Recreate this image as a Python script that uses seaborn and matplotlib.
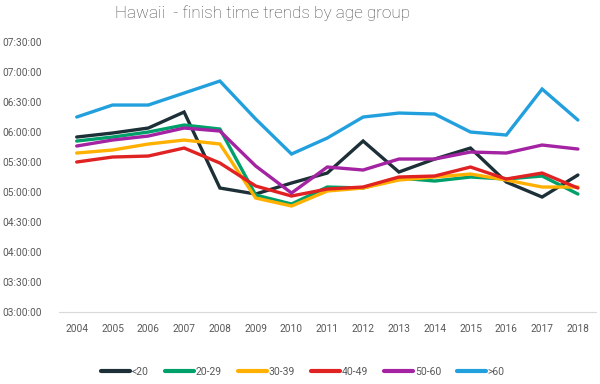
import matplotlib
matplotlib.use("Agg")
import matplotlib.pyplot as plt
from matplotlib.ticker import FuncFormatter, MultipleLocator
import seaborn as sns
import pandas as pd

years = [2004, 2005, 2006, 2007, 2008, 2009, 2010, 2011, 2012, 2013, 2014, 2015, 2016, 2017, 2018]
groups = ["<20", "20-29", "30-39", "40-49", "50-60", ">60"]
# finish times in minutes
u20 = [355, 359, 364, 380, 304, 298, 309, 319, 351, 320, 333, 344, 310, 295, 317]
a20_29 = [351, 355, 360, 367, 363, 297, 288, 305, 304, 314, 311, 315, 313, 316, 298]
a30_39 = [339, 342, 348, 352, 348, 294, 286, 301, 304, 312, 315, 318, 312, 305, 305]
a40_49 = [330, 335, 336, 344, 329, 306, 296, 303, 305, 315, 316, 325, 313, 319, 304]
a50_60 = [346, 352, 356, 364, 361, 326, 299, 325, 322, 333, 333, 340, 339, 347, 343]
o60 = [375, 387, 387, 399, 411, 373, 338, 354, 375, 379, 378, 360, 357, 403, 372]
colors = ["#1d3037", "#00a06b", "#ffb000", "#e02222", "#a323a3", "#22a0dd"]

series = [u20, a20_29, a30_39, a40_49, a50_60, o60]
rows = []
for g, vals in zip(groups, series):
    for y, v in zip(years, vals):
        rows.append({"year": y, "group": g, "minutes": v})
df = pd.DataFrame(rows)

sns.set_style("white")
plt.rcParams["font.family"] = ["Roboto", "DejaVu Sans"]

fig = plt.figure(figsize=(6, 3.84), dpi=100)
ax = fig.add_axes([0.098, 0.1875, 0.895, 0.703])
sns.lineplot(data=df, x="year", y="minutes", hue="group", hue_order=groups,
             palette=colors, linewidth=2.4, ax=ax, legend=True,
             solid_capstyle="round", solid_joinstyle="miter")

ax.set_xlim(2004 - 0.5, 2018 + 0.5)
ax.set_ylim(180, 450)
ax.yaxis.set_major_locator(MultipleLocator(30))
ax.set_xticks(years)
ax.yaxis.set_major_formatter(FuncFormatter(lambda v, p: "%02d:%02d:00" % (int(v) // 60, int(v) % 60)))
ax.tick_params(axis="both", labelsize=7.3, colors="#595959", length=0)
ax.tick_params(axis="y", pad=12)
ax.tick_params(axis="x", pad=9)
for lab in ax.get_yticklabels():
    lab.set_horizontalalignment("right")
for s in ["top", "right", "left"]:
    ax.spines[s].set_visible(False)
ax.spines["bottom"].set_color("#d9d9d9")
ax.set_xlabel("")
ax.set_ylabel("")

fig.suptitle("Hawaii  - finish time trends by age group", x=0.438, y=0.985,
             fontsize=12.3, color="#4a4a4a", fontweight="light")

h, l = ax.get_legend_handles_labels()
ax.legend_.remove()
for hh in h:
    hh.set_linewidth(3)
    hh.set_solid_capstyle("round")
fig.legend(h, l, loc="center", bbox_to_anchor=(0.505, 0.031), ncol=6, frameon=False,
           fontsize=7.5, handlelength=2.8, handletextpad=0.15, columnspacing=1.55,
           labelcolor="#595959")

fig.savefig("out.png", dpi=100)
